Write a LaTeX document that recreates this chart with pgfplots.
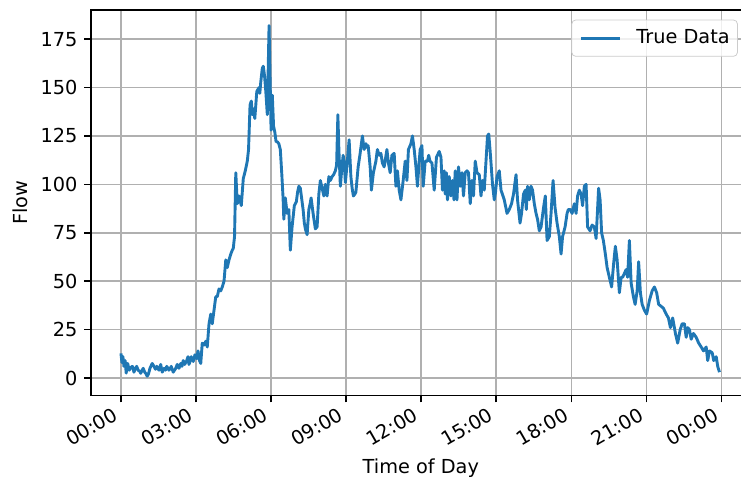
\documentclass[border=0pt]{standalone}
\usepackage{fontspec}
\setmainfont{DejaVu Sans}
\usepackage{pgfplots}
\pgfplotsset{compat=1.18}
\definecolor{mplblue}{HTML}{1F77B4}
\definecolor{mplgrid}{HTML}{B0B0B0}
\definecolor{mpllegend}{HTML}{CCCCCC}
\pgfplotstableread{
h v
0.00 12.7
0.04 8
0.08 11
0.12 6
0.17 9
0.21 2.5
0.27 7.5
0.33 4
0.40 5.5
0.46 6
0.52 3
0.58 5
0.63 6
0.69 4
0.75 3.5
0.79 2.4
0.85 4
0.89 5
0.95 3
0.99 2.4
1.05 0.9
1.10 2
1.16 5
1.25 7.5
1.32 6
1.38 4.5
1.43 6
1.48 5
1.52 4
1.59 7
1.65 3
1.72 5
1.78 4
1.83 6
1.88 5
1.92 4
1.97 5
2.01 6
2.09 3
2.14 4
2.19 5
2.25 7
2.32 5
2.39 7.5
2.44 6
2.49 9
2.55 7
2.63 9
2.68 11
2.72 7
2.76 8.5
2.81 11
2.89 8.5
2.96 12
3.03 10
3.08 14
3.14 9
3.19 7.5
3.25 18
3.32 17
3.39 19
3.45 16
3.52 28
3.59 33
3.65 28
3.72 35
3.79 42
3.85 42
3.92 46
3.99 45
4.05 47
4.12 50
4.19 61
4.25 57
4.32 61
4.39 64
4.45 66
4.49 67
4.54 73
4.59 106
4.65 90
4.72 94
4.81 89
4.89 103
4.97 107
5.05 112
5.10 118
5.16 141
5.21 143
5.25 136
5.30 139
5.35 134
5.43 148
5.52 150
5.55 147
5.59 153
5.65 160
5.69 161
5.74 156
5.79 148
5.85 136
5.92 182
6.00 128
6.05 146
6.10 130
6.15 127
6.20 122
6.25 122
6.31 121
6.37 118
6.43 105
6.48 93
6.51 82
6.57 93
6.64 85
6.71 87
6.77 66
6.84 78
6.93 89
7.01 91
7.06 96
7.11 99
7.17 98
7.22 93
7.28 87
7.33 80
7.37 77
7.44 74
7.51 87
7.56 90
7.60 93
7.68 85
7.77 77
7.84 78
7.91 95
7.97 102
8.04 98
8.11 94
8.17 100
8.24 94
8.31 104
8.37 102
8.44 104
8.50 105
8.57 107
8.62 110
8.67 136
8.71 118
8.77 99
8.82 107
8.88 115
8.92 112
8.97 101
9.05 112
9.12 123
9.19 104
9.24 98
9.29 94
9.35 95
9.39 96
9.48 109
9.56 116
9.65 125
9.72 118
9.79 121
9.84 119
9.88 120
9.96 109
10.01 97
10.09 106
10.19 112
10.25 118
10.32 115
10.39 116
10.45 111
10.52 109
10.57 113
10.63 118
10.69 111
10.76 106
10.83 115
10.92 116
10.99 99
11.05 107
11.12 97
11.19 92
11.28 102
11.36 112
11.43 102
11.49 118
11.59 121
11.65 125
11.72 118
11.79 109
11.85 99
11.92 112
11.96 118
12.03 120
12.08 99
12.16 112
12.25 112
12.30 115
12.35 112
12.43 111
12.52 97
12.61 114
12.72 117
12.79 114
12.85 97
12.92 107
12.96 95
13.01 106
13.05 92
13.12 104
13.19 94
13.25 102
13.31 92
13.36 107
13.43 92
13.49 109
13.56 99
13.63 106
13.69 94
13.76 106
13.83 107
13.89 106
13.96 90
14.03 102
14.09 94
14.16 112
14.23 106
14.32 105
14.39 94
14.45 102
14.52 97
14.59 112
14.65 125
14.70 126
14.75 118
14.79 111
14.85 100
14.92 92
14.97 96
15.03 104
15.12 107
15.19 97
15.32 92
15.43 85
15.52 87
15.61 90
15.69 95
15.79 105
15.85 92
15.95 80
16.01 85
16.09 95
16.16 97
16.20 87
16.25 99
16.32 92
16.39 99
16.45 97
16.52 90
16.59 85
16.65 82
16.72 76
16.79 78
16.89 88
16.96 94
17.03 71
17.12 73
17.19 85
17.27 102
17.35 88
17.43 80
17.52 73
17.59 64
17.65 73
17.75 78
17.83 85
17.88 87
17.96 87
18.03 85
18.12 90
18.19 85
18.25 94
18.32 97
18.39 95
18.45 89
18.52 99
18.59 100
18.65 78
18.75 76
18.83 79
18.92 78
18.99 72
19.09 98
19.15 92
19.21 75
19.28 71
19.36 64
19.43 57
19.52 52
19.61 47
19.69 59
19.76 68
19.83 61
19.92 44
19.99 52
20.05 52
20.12 54
20.19 56
20.25 52
20.32 71
20.39 49
20.48 42
20.55 38
20.63 45
20.69 60
20.76 44
20.83 38
20.92 35
21.01 33
21.12 40
21.23 45
21.32 47
21.41 44
21.49 38
21.59 37
21.68 36
21.79 33
21.88 31
21.96 26
22.05 31
22.16 23
22.25 18
22.35 25
22.43 28
22.52 28
22.59 21
22.65 26
22.72 25
22.79 20
22.88 23
22.99 21
23.09 18
23.19 16
23.28 14
23.39 16
23.45 9
23.52 14
23.63 13
23.69 9
23.79 11
23.85 6
23.92 3
}\flowdata
\begin{document}
\begin{tikzpicture}
\useasboundingbox (-47.14pt,-44.29pt) rectangle (336.7pt,204.87pt);
\begin{axis}[
  at={(0pt,0pt)}, anchor=south west,
  scale only axis, width=341.05pt, height=199.7pt,
  xmin=-1.196, xmax=25.116, ymin=-9.05, ymax=190.05,
  xtick={0,3,...,24},
  xticklabels={00:00,03:00,06:00,09:00,12:00,15:00,18:00,21:00,00:00},
  ytick={0,25,...,175},
  tick pos=left, tick align=outside, major tick length=3.5pt,
  every tick/.style={black, line width=0.8pt},
  axis line style={line width=0.8pt},
  grid=major, major grid style={mplgrid, line width=0.8pt},
  /pgf/number format/assume math mode=true,
  tick label style={font=\fontsize{10}{12}\selectfont},
  xticklabel style={inner sep=0pt, xshift=-4.5pt, yshift=-2pt, rotate=30, anchor=north east},
  xlabel={Time of Day}, ylabel={Flow},
  label style={font=\fontsize{10}{12}\selectfont},
  xlabel style={at={(axis description cs:0.501,-0.188)}, anchor=center},
  ylabel style={at={(axis description cs:-0.1079,0.5)}, anchor=center},
  legend style={at={(rel axis cs:1,1)}, anchor=north east, xshift=-6pt, yshift=-5pt,
    draw=mpllegend, rounded corners=2pt, fill=white, fill opacity=0.8, text opacity=1,
    inner xsep=4pt, inner ysep=5pt, nodes={inner sep=0pt}, column sep=8pt,
    font=\fontsize{10}{12}\selectfont},
  legend cell align=left,
  legend image code/.code={\draw[#1] (0pt,0pt) -- (20pt,0pt);},
]
\addplot[mplblue, line width=1.5pt, line join=round] table[x=h, y=v] {\flowdata};
\addlegendentry{True Data}
\end{axis}
\end{tikzpicture}
\end{document}
